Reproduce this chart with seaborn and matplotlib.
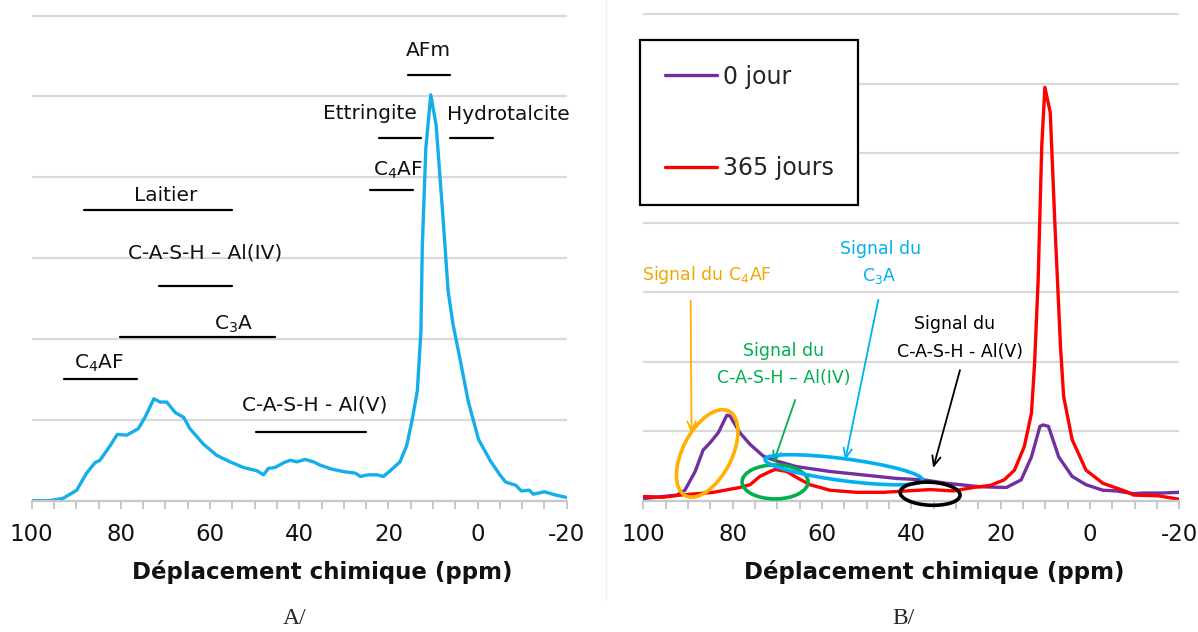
import numpy as np
import matplotlib
matplotlib.use('Agg')
import matplotlib.pyplot as plt
import matplotlib.transforms as mtransforms
from matplotlib.patches import Ellipse
from matplotlib.lines import Line2D
import seaborn as sns

# spectre A (ppm, intensite relative)
ppm_a = [100, 97, 95.9, 92.9, 89.9, 87.7, 85.8, 84.7, 82.4, 80.8, 78.7, 76.1, 74.6,
         72.6, 71.2, 69.7, 67.8, 65.9, 64.5, 61.5, 58.5, 55.5, 52.5, 49.5, 48.0,
         46.9, 45.4, 43.5, 42.0, 40.5, 38.7, 36.8, 35.3, 32.7, 30.1, 27.4, 26.3,
         24.5, 22.6, 21.1, 19.6, 17.4, 15.9, 14.7, 13.5, 12.7, 12.4, 11.6, 10.5,
         9.3, 7.8, 6.6, 5.5, 4.0, 2.1, -0.2, -2.9, -5.0, -6.3, -8.6, -9.8, -11.6,
         -12.5, -15.0, -17.5, -20.0]
int_a = [0.0, 0.0, 0.0, 0.03, 0.13, 0.34, 0.47, 0.50, 0.68, 0.82, 0.81, 0.89, 1.03,
         1.26, 1.22, 1.22, 1.09, 1.03, 0.89, 0.70, 0.56, 0.48, 0.41, 0.37, 0.32,
         0.40, 0.41, 0.47, 0.50, 0.48, 0.51, 0.48, 0.44, 0.39, 0.36, 0.34, 0.30,
         0.32, 0.32, 0.30, 0.37, 0.48, 0.68, 0.99, 1.36, 2.10, 3.13, 4.36, 5.02,
         4.65, 3.54, 2.59, 2.18, 1.77, 1.23, 0.76, 0.49, 0.32, 0.23, 0.19, 0.12, 0.13,
         0.08, 0.11, 0.07, 0.04]

# spectre B, 0 jour
ppm_b0 = [100, 92.5, 90.7, 88.4, 86.6, 85.1, 83.2, 81.3, 80.6, 78.4, 76.1, 73.1,
          70.1, 65.7, 58.2, 50.7, 43.3, 37.3, 32.1, 24.6, 18.7, 15.4, 13.1, 11.2,
          10.5, 9.3, 7.0, 4.0, 0.9, -2.9, -5.9, -9.8, -11.9, -16.0, -20.0]
int_b0 = [0.03, 0.08, 0.15, 0.42, 0.73, 0.83, 0.98, 1.23, 1.22, 0.98, 0.81, 0.64,
          0.57, 0.49, 0.42, 0.37, 0.32, 0.30, 0.25, 0.20, 0.19, 0.30, 0.63, 1.07,
          1.09, 1.07, 0.63, 0.35, 0.23, 0.15, 0.14, 0.10, 0.11, 0.11, 0.12]

# spectre B, 365 jours
ppm_b365 = [100, 95.5, 91.8, 84.3, 78.4, 76.1, 73.9, 71.6, 70.5, 67.9, 65.3, 62.7,
            58.2, 52.2, 46.3, 41.0, 35.8, 30.6, 26.1, 22.3, 19.2, 16.9, 14.7, 13.1,
            12.4, 11.6, 10.8, 10.1, 8.9, 7.8, 6.6, 5.9, 4.0, 0.9, -2.9, -8.2, -9.8,
            -15.3, -20.0]
int_b365 = [0.06, 0.05, 0.08, 0.12, 0.19, 0.23, 0.35, 0.42, 0.45, 0.42, 0.32, 0.23,
            0.15, 0.12, 0.12, 0.14, 0.16, 0.14, 0.19, 0.22, 0.30, 0.44, 0.78, 1.26,
            1.98, 3.18, 5.10, 5.95, 5.59, 3.90, 2.22, 1.50, 0.88, 0.44, 0.25, 0.13, 0.08,
            0.07, 0.02]

series_b = ['0 jour', '365 jours']
x_ticks = [100, 80, 60, 40, 20, 0, -20]

sns.set_style('white')
plt.rcParams['font.family'] = ['DejaVu Sans']
plt.rcParams['mathtext.fontset'] = 'dejavusans'
plt.rcParams['axes.unicode_minus'] = False

fig = plt.figure(figsize=(11.98, 6.32), dpi=100)
ax_a = fig.add_axes([0.02646, 0.2078, 0.4466, 0.7701])
ax_b = fig.add_axes([0.537, 0.2078, 0.4474, 0.7717])

sns.lineplot(x=ppm_a, y=int_a, ax=ax_a, color='#14AEEB', linewidth=2.4, errorbar=None)
sns.lineplot(x=ppm_b0, y=int_b0, ax=ax_b, color='#7030A0', linewidth=2.4,
             errorbar=None, label=series_b[0])
sns.lineplot(x=ppm_b365, y=int_b365, ax=ax_b, color='#FF0000', linewidth=2.4,
             errorbar=None, label=series_b[1])


def style_axis(ax, ymax):
    ax.set_xlim(100, -20)
    ax.set_ylim(0, ymax + 0.02)
    ax.set_xticks(x_ticks)
    ax.set_xticks(np.arange(-20, 101, 5), minor=True)
    ax.set_yticks(range(1, ymax + 1))
    ax.yaxis.grid(True, color='#d9d9d9', linewidth=1.6)
    ax.set_axisbelow(True)
    for s in ['top', 'right', 'left']:
        ax.spines[s].set_visible(False)
    ax.spines['bottom'].set_color('#c8c8c8')
    ax.spines['bottom'].set_linewidth(1.6)
    ax.tick_params(axis='y', left=False, labelleft=False)
    ax.tick_params(axis='x', which='both', direction='out', length=6, width=1.4,
                   color='#c8c8c8', bottom=True)
    ax.tick_params(axis='x', which='major', labelsize=16.5, pad=10, labelcolor='#111111')
    ax.set_ylabel('')
    ax.set_xlabel('Déplacement chimique (ppm)', fontsize=16.5, fontweight='bold',
                  labelpad=10, color='#111111')
    ax.xaxis.label.set_x(0.543)


style_axis(ax_a, 6)
style_axis(ax_b, 7)

# --- panneau A : attributions ---
labels_a = [
    ('AFm', 11.0, 5.50, 15.6, 6.1, 5.26),
    ('Ettringite', 24.1, 4.72, 22.1, 12.7, 4.49),
    ('Hydrotalcite', -6.9, 4.71, 6.1, -3.5, 4.49),
    ('C$_4$AF', 17.8, 4.02, 24.1, 14.4, 3.84),
    ('Laitier', 70.0, 3.71, 88.2, 55.0, 3.60),
    ('C-A-S-H – Al(IV)', 61.2, 2.99, 71.5, 55.0, 2.65),
    ('C$_3$A', 54.6, 2.11, 80.3, 45.5, 2.03),
    ('C$_4$AF', 84.8, 1.63, 92.8, 76.4, 1.50),
    ('C-A-S-H - Al(V)', 36.6, 1.12, 49.7, 25.0, 0.85),
]
for txt, xt, yt, x0, x1, yl in labels_a:
    ax_a.text(xt, yt, txt, ha='center', va='baseline', fontsize=14.5, color='#111111')
    ax_a.plot([x0, x1], [yl, yl], color='black', linewidth=1.6)

# --- panneau B : legende ---
leg = ax_b.legend(loc='upper left', bbox_to_anchor=(-0.006, 0.945), fontsize=17,
                  frameon=True, fancybox=False, edgecolor='black', framealpha=1,
                  handlelength=2.2, handletextpad=0.25, labelspacing=2.85,
                  borderpad=1.05, borderaxespad=0)
leg.get_frame().set_linewidth(1.6)

# --- panneau B : signaux ---
orange = '#FFB000'
green = '#00B050'
blue = '#00B0F0'

ax_b.text(85.7, 3.18, 'Signal du C$_4$AF', ha='center', va='baseline', fontsize=12.5, color='#F0A800')
ax_b.text(46.8, 3.55, 'Signal du', ha='center', va='baseline', fontsize=12.5, color=blue)
ax_b.text(47.2, 3.16, 'C$_3$A', ha='center', va='baseline', fontsize=12.5, color=blue)
ax_b.text(68.7, 2.08, 'Signal du', ha='center', va='baseline', fontsize=12.5, color=green)
ax_b.text(68.5, 1.69, 'C-A-S-H – Al(IV)', ha='center', va='baseline', fontsize=12.5, color=green)
ax_b.text(30.4, 2.47, 'Signal du', ha='center', va='baseline', fontsize=12.5, color='black')
ax_b.text(29.1, 2.07, 'C-A-S-H - Al(V)', ha='center', va='baseline', fontsize=12.5, color='black')

arrows = [
    ((89.2, 0.97), (89.4, 2.88), orange),
    ((70.9, 0.54), (66.0, 1.45), green),
    ((54.8, 0.58), (47.4, 2.89), blue),
    ((35.1, 0.47), (29.1, 1.88), 'black'),
]
for tip, start, c in arrows:
    ax_b.annotate('', xy=tip, xytext=start,
                  arrowprops=dict(arrowstyle='->,head_length=0.7,head_width=0.3',
                                  color=c, lw=1.3, shrinkA=0, shrinkB=0))


def ring(ax, x, y, w, h, angle, color):
    tr = fig.dpi_scale_trans + mtransforms.ScaledTranslation(x, y, ax.transData)
    ax.add_patch(Ellipse((0, 0), w / 100, h / 100, angle=angle, fill=False,
                         edgecolor=color, linewidth=2.6, transform=tr,
                         clip_on=False, zorder=5))


ring(ax_b, 85.7, 0.68, 95, 49, 62.8, orange)
ring(ax_b, 70.5, 0.27, 66, 34, 0, green)
ring(ax_b, 55.1, 0.445, 159, 22, -7.5, blue)
ring(ax_b, 35.8, 0.10, 60, 23, -3, 'black')

fig.add_artist(Line2D([0.506, 0.506], [0.05, 1.0], transform=fig.transFigure,
                      color='#eeeeee', linewidth=1))

fig.text(295 / 1198, 0.012, 'A/', ha='center', va='baseline',
         family='Liberation Serif', fontsize=17)
fig.text(903 / 1198, 0.012, 'B/', ha='center', va='baseline',
         family='Liberation Serif', fontsize=17)

fig.savefig('out.png', dpi=100)
